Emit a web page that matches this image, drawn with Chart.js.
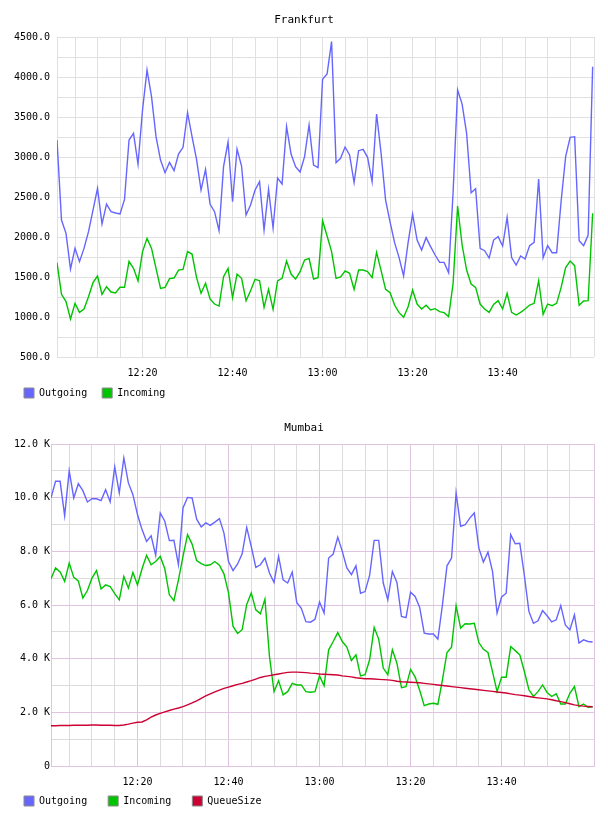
<!DOCTYPE html>
<html><head><meta charset="utf-8">
<script src="https://cdn.jsdelivr.net/npm/chart.js@4/dist/chart.umd.min.js"></script>
<style>
html,body{margin:0;padding:0;background:#fff;}
canvas{position:absolute;left:0;display:block;}
#c1{top:0px;} #c2{top:408px;}
</style></head><body>
<canvas id="c1" width="608" height="408"></canvas>
<canvas id="c2" width="608" height="408"></canvas>
<script>
// minute offsets from 12:00; one sample per minute, 12:01 .. 14:00
const firstMinute = 1;
const lastAxisMinute = 120.3;
const xLabelMinutes = [20, 40, 60, 80, 100];
const xTickLabels = ['12:20', '12:40', '13:00', '13:20', '13:40'];

const frankfurtTitle = 'Frankfurt';
const mumbaiTitle = 'Mumbai';
const seriesNames = ['Outgoing', 'Incoming', 'QueueSize'];

const frankfurtOutgoing = [
 3212,2212,2046,1600,1858,1692,1858,2067,2337,2608,
 2162,2412,2317,2300,2287,2470,3212,3296,2912,3587,
 4087,3754,3254,2962,2804,2933,2829,3037,3121,3554,
 3254,2971,2587,2846,2412,2317,2079,2879,3187,2441,
 3100,2887,2275,2400,2587,2692,2087,2596,2112,2737,
 2662,3379,3037,2879,2812,3004,3400,2900,2867,3971,
 4037,4442,2929,2983,3125,3025,2679,3079,3096,2996,
 2692,3537,3046,2462,2187,1929,1742,1512,1929,2287,
 1962,1837,1992,1879,1775,1683,1683,1554,2562,3837,
 3662,3296,2554,2604,1858,1829,1737,1962,2004,1887,
 2246,1742,1650,1762,1725,1892,1933,2725,1742,1892,
 1804,1804,2450,3004,3246,3254,1954,1892,2025,4129];

const frankfurtIncoming = [
 1679,1283,1192,975,1171,1058,1100,1254,1429,1512,
 1283,1379,1312,1300,1371,1371,1696,1608,1450,1817,
 1983,1858,1608,1358,1371,1479,1487,1587,1596,1817,
 1787,1496,1296,1421,1225,1162,1137,1504,1608,1242,
 1537,1483,1204,1329,1471,1454,1121,1346,1096,1450,
 1483,1700,1537,1475,1567,1712,1733,1475,1492,2204,
 2012,1817,1483,1500,1575,1546,1346,1587,1587,1567,
 1492,1808,1579,1346,1304,1150,1054,996,1129,1337,
 1162,1100,1146,1087,1104,1067,1054,1004,1421,2387,
 1900,1587,1412,1371,1162,1100,1058,1158,1204,1100,
 1296,1058,1025,1058,1100,1150,1171,1454,1033,1162,
 1142,1171,1371,1617,1700,1642,1146,1200,1204,2296];

// Mumbai values in thousands (K)
const mumbaiOutgoingK = [
 9.99,10.61,10.61,9.33,11.0,9.99,10.52,10.26,9.84,9.96,
 9.96,9.89,10.3,9.84,11.15,10.18,11.48,10.55,10.11,9.37,
 8.81,8.37,8.58,7.85,9.43,9.12,8.40,8.41,7.50,9.62,
 10.01,9.99,9.20,8.91,9.06,8.97,9.09,9.22,8.68,7.62,
 7.28,7.53,7.91,8.89,8.18,7.40,7.50,7.75,7.19,6.84,
 7.81,6.94,6.82,7.23,6.09,5.88,5.38,5.36,5.47,6.11,
 5.70,7.75,7.90,8.53,8.00,7.38,7.13,7.46,6.44,6.50,
 7.10,8.41,8.41,6.82,6.19,7.25,6.84,5.57,5.53,6.48,
 6.32,5.91,4.95,4.92,4.92,4.73,6.00,7.46,7.75,10.18,
 8.93,8.99,9.24,9.43,8.12,7.60,7.97,7.25,5.70,6.30,
 6.44,8.62,8.28,8.30,7.10,5.76,5.32,5.41,5.79,5.60,
 5.37,5.45,5.98,5.26,5.07,5.63,4.58,4.70,4.64,4.62];

const mumbaiIncomingK = [
 6.98,7.38,7.23,6.88,7.56,7.03,6.90,6.26,6.54,7.00,
 7.28,6.60,6.75,6.69,6.42,6.19,7.06,6.63,7.21,6.75,
 7.35,7.85,7.50,7.62,7.81,7.35,6.38,6.16,6.94,7.81,
 8.62,8.27,7.66,7.54,7.47,7.50,7.62,7.48,7.16,6.45,
 5.20,4.94,5.08,6.02,6.45,5.82,5.67,6.22,4.08,2.77,
 3.18,2.65,2.77,3.08,3.02,3.02,2.77,2.75,2.77,3.36,
 2.99,4.33,4.64,4.97,4.64,4.43,3.93,4.14,3.36,3.40,
 3.96,5.16,4.73,3.65,3.40,4.33,3.83,2.92,2.96,3.60,
 3.32,2.82,2.25,2.31,2.34,2.30,3.21,4.23,4.43,5.97,
 5.14,5.30,5.29,5.32,4.60,4.35,4.23,3.52,2.77,3.31,
 3.31,4.45,4.30,4.14,3.52,2.84,2.59,2.77,3.02,2.74,
 2.59,2.69,2.31,2.31,2.71,2.96,2.21,2.31,2.19,2.21];

const mumbaiQueueSizeK = [
 1.50,1.50,1.51,1.51,1.51,1.52,1.52,1.52,1.52,1.53,
 1.53,1.52,1.52,1.52,1.51,1.51,1.53,1.56,1.60,1.63,
 1.64,1.72,1.82,1.90,1.96,2.02,2.07,2.12,2.16,2.21,
 2.28,2.35,2.43,2.52,2.61,2.69,2.76,2.83,2.89,2.94,
 2.99,3.04,3.08,3.13,3.18,3.24,3.30,3.34,3.37,3.40,
 3.43,3.46,3.49,3.50,3.50,3.49,3.48,3.46,3.45,3.43,
 3.42,3.41,3.40,3.39,3.36,3.34,3.32,3.29,3.27,3.25,
 3.25,3.24,3.23,3.22,3.21,3.19,3.16,3.14,3.13,3.12,
 3.11,3.10,3.08,3.06,3.04,3.02,3.00,2.98,2.96,2.94,
 2.92,2.90,2.88,2.86,2.84,2.82,2.80,2.78,2.76,2.74,
 2.72,2.69,2.66,2.64,2.62,2.59,2.56,2.54,2.52,2.50,
 2.47,2.43,2.40,2.36,2.32,2.28,2.25,2.23,2.22,2.21];

const COLORS = { out: '#6666ff', inc: '#00c400', queue: '#cc0033' };
const GRID_GREY = '#e0e0e0';
const GRID_MINOR = '#dcdcdc';
const GRID_MAJOR = '#dfc3df';

Chart.defaults.font.family = "'DejaVu Sans Mono', monospace";
Chart.defaults.font.size = 10;
Chart.defaults.color = '#000';

function toPoints(values) {
  return values.map((v, i) => ({ x: firstMinute + i, y: v }));
}
function xLabel(value) {
  const k = xLabelMinutes.indexOf(value);
  return k >= 0 ? xTickLabels[k] : '';
}
function lineDs(label, values, color, order) {
  return { label, data: toPoints(values), borderColor: color, backgroundColor: color,
           borderWidth: 1.4, pointRadius: 0, tension: 0, fill: false, order };
}
function legendOpts(pad) {
  return {
    display: true, position: 'bottom', align: 'start',
    labels: {
      boxWidth: 10, boxHeight: 10, padding: pad, font: { size: 10 }, color: '#000',
      sort: (a, b) => a.datasetIndex - b.datasetIndex,
      generateLabels: (chart) => {
        const items = Chart.defaults.plugins.legend.labels.generateLabels(chart);
        items.forEach(it => { it.strokeStyle = '#8a8a8a'; it.lineWidth = 1; });
        return items;
      }
    }
  };
}

function makeChart(id, cfg) {
  return new Chart(document.getElementById(id), {
    type: 'line',
    data: { datasets: cfg.datasets },
    options: {
      responsive: false, animation: false, events: [],
      layout: { padding: { left: cfg.side, right: cfg.side, top: 0, bottom: 0 } },
      plugins: {
        title: { display: true, text: cfg.title, color: '#000',
                 font: { size: 11, weight: 'normal' },
                 padding: { top: 14, bottom: cfg.titleBottom } },
        legend: legendOpts(cfg.legendPad),
        tooltip: { enabled: false }
      },
      scales: {
        x: {
          type: 'linear', min: firstMinute, max: lastAxisMinute,
          grid: { drawTicks: false, color: cfg.xGridColor, lineWidth: 1 },
          border: cfg.border,
          ticks: { stepSize: 5, autoSkip: false, maxRotation: 0, padding: 10,
                   maxTicksLimit: 1000, callback: (v) => xLabel(v) },
          afterFit: (s) => {
            s.height = cfg.xHeight;
            // labels sit below the (shortened) axis box; do not clip them to it
            s._computeLabelArea = () => undefined;
          }
        },
        y: {
          type: 'linear', position: 'left', min: cfg.yMin, max: cfg.yMax,
          grid: { drawTicks: false, color: cfg.yGridColor, lineWidth: 1 },
          border: cfg.border,
          ticks: { stepSize: cfg.yStep, autoSkip: false, padding: cfg.yPad,
                   maxTicksLimit: 1000, callback: cfg.yLabel },
          afterFit: (s) => { s.width = cfg.yWidth; s._computeLabelArea = () => undefined; }
        },
        yRight: {
          type: 'linear', position: 'right', display: true,
          grid: { display: false }, border: { display: false },
          ticks: { display: false },
          afterFit: (s) => { s.width = cfg.rightWidth; }
        }
      }
    }
  });
}

// Frankfurt
makeChart('c1', {
  title: frankfurtTitle,
  datasets: [
    lineDs(seriesNames[0], frankfurtOutgoing, COLORS.out, 2),
    lineDs(seriesNames[1], frankfurtIncoming, COLORS.inc, 1)
  ],
  side: 9, rightWidth: 5, yWidth: 48, yPad: 7, titleBottom: 9.8,
  legendPad: 15, xHeight: 16,
  yMin: 500, yMax: 4500, yStep: 250,
  yLabel: (v) => (v % 500 === 0 ? v.toFixed(1) : ''),
  xGridColor: GRID_GREY, yGridColor: GRID_GREY,
  border: { display: false }
});

// Mumbai
makeChart('c2', {
  title: mumbaiTitle,
  datasets: [
    lineDs(seriesNames[0], mumbaiOutgoingK, COLORS.out, 3),
    lineDs(seriesNames[1], mumbaiIncomingK, COLORS.inc, 2),
    lineDs(seriesNames[2], mumbaiQueueSizeK, COLORS.queue, 1)
  ],
  side: 3, rightWidth: 11, yWidth: 48, yPad: 1, titleBottom: 8.8,
  legendPad: 21, xHeight: 9,
  yMin: 0, yMax: 12, yStep: 1,
  yLabel: (v) => (v === 0 ? '0' : (v % 2 === 0 ? v.toFixed(1) + ' K' : '')),
  xGridColor: (c) => {
    const v = c.tick ? c.tick.value : 0;
    return (v % 20 === 0 || v <= firstMinute || v > 120) ? GRID_MAJOR : GRID_MINOR;
  },
  yGridColor: (c) => (c.tick && c.tick.value % 2 === 0 ? GRID_MAJOR : GRID_MINOR),
  border: { display: true, color: GRID_MAJOR, width: 1 }
});
</script>
</body></html>
